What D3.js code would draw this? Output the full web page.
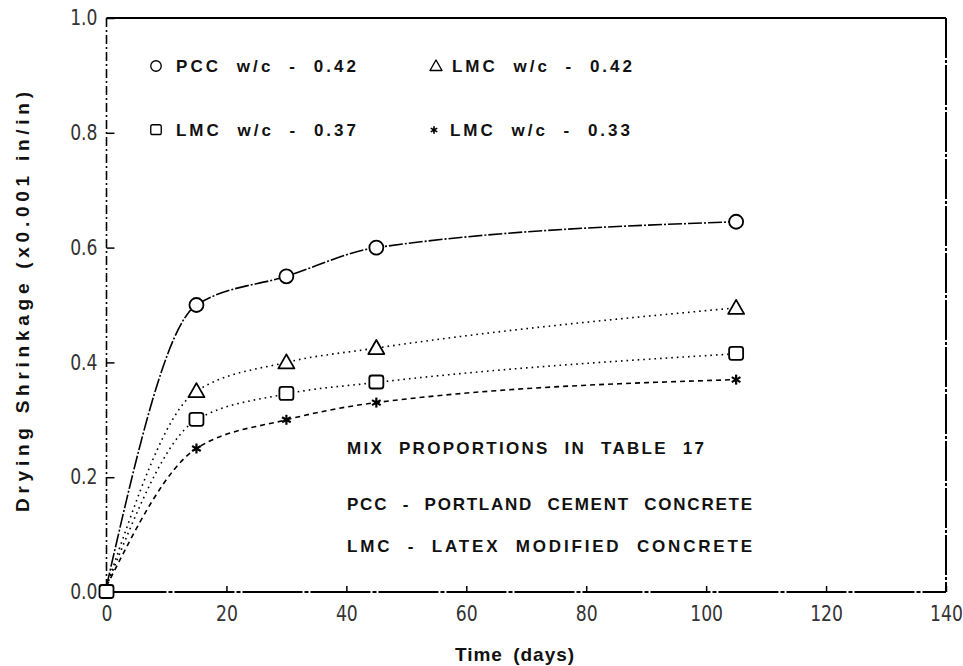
<!DOCTYPE html>
<html>
<head>
<meta charset="utf-8">
<script src="https://cdn.jsdelivr.net/npm/d3@7"></script>
<style>
  body { margin: 0; background: #fff; }
  .bold { font-family: "Liberation Sans", Arial, sans-serif; font-weight: bold; fill: #111; }
  .spaced { word-spacing: 8px; }
  .tick-label { font-family: "DejaVu Sans", "Liberation Sans", sans-serif; font-size: 21px; fill: #333; }
</style>
</head>
<body>
<svg id="chart" width="963" height="666"></svg>
<script>
// Drying shrinkage measurements (x0.001 in/in) against age in days
const days    = [0, 15, 30, 45, 105];
const pcc042  = [0.01, 0.50, 0.55, 0.60, 0.645];
const lmc042  = [0.01, 0.35, 0.40, 0.425, 0.495];
const lmc037  = [0.01, 0.30, 0.345, 0.365, 0.415];
const lmc033  = [0.01, 0.25, 0.30, 0.33, 0.37];

const seriesLabels = ["PCC w/c - 0.42", "LMC w/c - 0.42", "LMC w/c - 0.37", "LMC w/c - 0.33"];
const xTicks = [0, 20, 40, 60, 80, 100, 120, 140];
const yTicks = [0, 0.2, 0.4, 0.6, 0.8, 1.0];
const yTickLabels = ["0.0", "0.2", "0.4", "0.6", "0.8", "1.0"];
const notes = ["MIX PROPORTIONS IN TABLE 17", "PCC - PORTLAND CEMENT CONCRETE", "LMC - LATEX MODIFIED CONCRETE"];

const svg = d3.select("#chart");
const plotLeft = 106.5, plotRight = 946, plotTop = 18, plotBottom = 592;

const x = d3.scaleLinear().domain([0, 140]).range([plotLeft, plotRight]);
const y = d3.scaleLinear().domain([0, 1.0]).range([plotBottom, plotTop]);

// Frame
svg.append("line").attr("x1", plotLeft).attr("x2", plotRight).attr("y1", plotTop).attr("y2", plotTop)
  .attr("stroke", "#000").attr("stroke-width", 2.2);
svg.append("line").attr("x1", plotRight).attr("x2", plotRight).attr("y1", plotTop).attr("y2", plotBottom)
  .attr("stroke", "#000").attr("stroke-width", 2).attr("stroke-dasharray", "40,2,3,2");
svg.append("line").attr("x1", plotLeft).attr("x2", plotLeft).attr("y1", plotTop).attr("y2", plotBottom)
  .attr("stroke", "#000").attr("stroke-width", 1.6).attr("stroke-dasharray", "9,3,2,3");
svg.append("line").attr("x1", plotLeft).attr("x2", plotRight).attr("y1", plotBottom).attr("y2", plotBottom)
  .attr("stroke", "#000").attr("stroke-width", 1.8).attr("stroke-dasharray", "60,2,4,2");

// Axes with inward ticks; labels drawn in a condensed plotter style
const xAxis = d3.axisBottom(x).tickValues(xTicks).tickSize(-6).tickPadding(14).tickFormat(d3.format("d"));
const gx = svg.append("g").attr("transform", `translate(0,${plotBottom})`).call(xAxis);
gx.select(".domain").remove();
gx.selectAll(".tick line").attr("stroke", "#000").attr("stroke-width", 1.5);
gx.selectAll(".tick text").attr("class", "tick-label").attr("font-size", null).attr("font-family", null).attr("fill", null)
  .attr("transform", "scale(0.82,1)");

const yAxis = d3.axisLeft(y).tickValues(yTicks).tickSize(-8).tickPadding(11)
  .tickFormat((d, i) => yTickLabels[i]);
const gy = svg.append("g").attr("transform", `translate(${plotLeft},0)`).call(yAxis);
gy.select(".domain").remove();
gy.selectAll(".tick line").attr("stroke", "#000").attr("stroke-width", 1.5);
gy.selectAll(".tick text").attr("class", "tick-label").attr("font-size", null).attr("font-family", null).attr("fill", null)
  .attr("transform", "scale(0.82,1)");

// Axis titles
svg.append("text").attr("class", "bold")
  .attr("transform", `translate(29,${302}) rotate(-90)`)
  .attr("text-anchor", "middle").attr("font-size", 19)
  .attr("textLength", 420).attr("lengthAdjust", "spacing")
  .text("Drying Shrinkage (x0.001 in/in)");
svg.append("text").attr("class", "bold")
  .attr("x", 515).attr("y", 661).attr("text-anchor", "middle").attr("font-size", 19)
  .attr("letter-spacing", 1).attr("word-spacing", 4)
  .text("Time (days)");

// Series
const series = [
  { values: pcc042, dash: "14,2,2,2", marker: "circle" },
  { values: lmc042, dash: "1.6,4", marker: "triangle" },
  { values: lmc037, dash: "1.6,4", marker: "square" },
  { values: lmc033, dash: "5,4", marker: "star" }
];

const line = d3.line()
  .x((d, i) => x(days[i]))
  .y(d => y(d))
  .curve(d3.curveMonotoneX);

series.forEach(s => {
  svg.append("path").datum(s.values)
    .attr("d", line)
    .attr("fill", "none")
    .attr("stroke", "#000")
    .attr("stroke-width", 1.6)
    .attr("stroke-dasharray", s.dash);
});

function drawMarker(g, type, cx, cy) {
  if (type === "circle") {
    g.append("circle").attr("cx", cx).attr("cy", cy).attr("r", 7)
      .attr("fill", "#fff").attr("stroke", "#000").attr("stroke-width", 1.8);
  } else if (type === "triangle") {
    const s = 8;
    g.append("path").attr("d", `M${cx},${cy - s}L${cx + s},${cy + s * 0.75}L${cx - s},${cy + s * 0.75}Z`)
      .attr("fill", "#fff").attr("stroke", "#000").attr("stroke-width", 1.8).attr("stroke-linejoin", "round");
  } else if (type === "square") {
    g.append("rect").attr("x", cx - 7).attr("y", cy - 7).attr("width", 14).attr("height", 13).attr("rx", 2.5)
      .attr("fill", "#fff").attr("stroke", "#000").attr("stroke-width", 1.8);
  } else if (type === "star") {
    const r = 5;
    [0, 60, 120].forEach(a => {
      const t = a * Math.PI / 180;
      g.append("line")
        .attr("x1", cx - r * Math.sin(t)).attr("y1", cy - r * Math.cos(t))
        .attr("x2", cx + r * Math.sin(t)).attr("y2", cy + r * Math.cos(t))
        .attr("stroke", "#000").attr("stroke-width", 2.2);
    });
    g.append("circle").attr("cx", cx).attr("cy", cy).attr("r", 2).attr("fill", "#000");
  }
}

const markers = svg.append("g");
series.forEach(s => {
  s.values.forEach((v, i) => {
    // the origin is marked only by the square series
    if (days[i] === 0 && s.marker !== "square") return;
    const cy = days[i] === 0 ? y(0) : y(v);
    drawMarker(markers, s.marker, x(days[i]), cy);
  });
});

// Legend (two columns, two rows)
const legendPos = [
  { mx: 156, tx: 176, y: 72 },
  { mx: 436, tx: 452, y: 72 },
  { mx: 156, tx: 176, y: 136 },
  { mx: 434, tx: 450, y: 136 }
];
series.forEach((s, i) => {
  const p = legendPos[i];
  const g = svg.append("g");
  const my = p.y - 6;
  const gm = g.append("g").attr("transform", `translate(${p.mx},${my}) scale(0.75) translate(${-p.mx},${-my})`);
  drawMarker(gm, s.marker, p.mx, my);
  g.append("text").attr("class", "bold spaced")
    .attr("x", p.tx).attr("y", p.y).attr("font-size", 17)
    .attr("textLength", 180).attr("lengthAdjust", "spacing")
    .text(seriesLabels[i]);
});

// Notes
const noteY = [454, 510, 552];
const noteW = [357, 405, 405];
notes.forEach((t, i) => {
  svg.append("text").attr("class", "bold spaced")
    .attr("x", 347).attr("y", noteY[i]).attr("font-size", 17)
    .attr("textLength", noteW[i]).attr("lengthAdjust", "spacing")
    .text(t);
});
</script>
</body>
</html>
